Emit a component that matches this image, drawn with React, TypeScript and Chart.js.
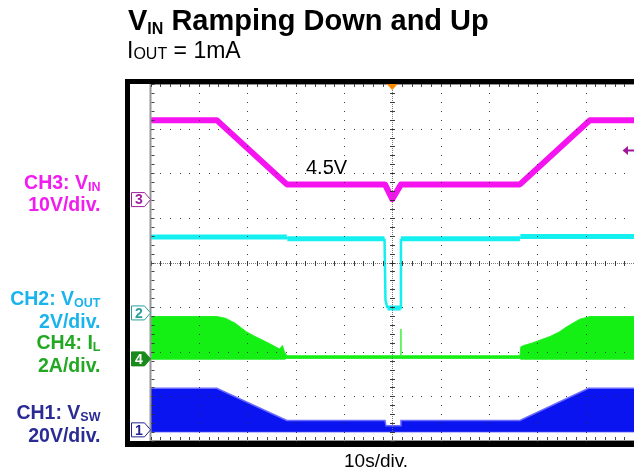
import React, { useEffect, useRef } from 'react';
import { Chart, registerables } from 'chart.js';

Chart.register(...registerables);

// Time axis in seconds (10 s/div, 10 divisions); vertical axis in screen divisions (-4..4)
const TIME_VIN = [0, 13.7, 28.2, 48.5, 50.0, 51.8, 76.4, 90.9, 100];
const VIN_DIV = [3.19, 3.19, 1.75, 1.75, 1.42, 1.75, 1.75, 3.19, 3.19];

const TIME_VOUT = [0, 28.2, 28.3, 48.4, 48.6, 49.0, 51.75, 51.8, 76.4, 76.5, 100];
const VOUT_DIV = [0.57, 0.57, 0.53, 0.53, -0.85, -1.02, -1.02, 0.53, 0.53, 0.58, 0.58];

const TIME_IL = [0, 13.7, 15.5, 17.5, 19.8, 21.5, 23.2, 25.0, 26.7, 27.3, 27.7, 28.2, 76.4, 76.6, 77.2, 79.1, 82.6, 84.5, 86.1, 88.8, 90.9, 100];
const IL_TOP = [-1.21, -1.21, -1.25, -1.36, -1.55, -1.65, -1.74, -1.84, -1.94, -1.86, -2.0, -2.09, -2.09, -1.89, -1.86, -1.8, -1.66, -1.56, -1.44, -1.27, -1.21, -1.21];
const IL_BOTTOM = [-2.17, -2.17, -2.17, -2.17, -2.17, -2.17, -2.17, -2.17, -2.17, -2.17, -2.17, -2.15, -2.15, -2.17, -2.17, -2.17, -2.17, -2.17, -2.17, -2.17, -2.17, -2.17];
const TIME_IL_SPIKE = [51.8, 51.8];
const IL_SPIKE = [-2.12, -1.49];

const TIME_SW = [0, 13.7, 28.2, 48.5, 48.7, 51.7, 51.8, 76.4, 90.6, 100];
const SW_TOP = [-2.82, -2.82, -3.54, -3.54, -3.66, -3.66, -3.54, -3.54, -2.82, -2.82];
const SW_BOTTOM = [-3.79, -3.79, -3.79, -3.79, -3.79, -3.79, -3.79, -3.79, -3.79, -3.79];

const X_DIVS = [0, 10, 20, 30, 40, 50, 60, 70, 80, 90, 100];
const Y_DIVS = [-4, -3, -2, -1, 0, 1, 2, 3, 4];
const X_MINOR_STEP = 2;
const Y_MINOR_STEP = 0.2;

const CH_MARKERS = ['3', '2', '4', '1'];
const CH_LEVELS = [1.41, -1.13, -2.16, -3.75];
const CH_MARKER_COLORS = ['#a0209e', '#2a9e9e', '#1a8a1a', '#24248e'];
const CH_MARKER_FILLED = [false, false, true, false];
const TRIGGER_TIME = 50;
const TRIGGER_LEVEL = 2.51;

const FONT = '"Liberation Sans", Arial, Helvetica, sans-serif';

function pts(xs: number[], ys: number[]) {
  return xs.map((x, i) => ({ x, y: ys[i] }));
}

const scopePlugin = {
  id: 'scope',
  beforeDraw(chart: any) {
    const { ctx, chartArea: a, width, height } = chart;
    ctx.save();
    ctx.fillStyle = '#ffffff';
    ctx.fillRect(0, 0, width, height);
    ctx.fillStyle = '#000000';
    ctx.fillRect(a.left - 25.5, a.top - 5, width, a.bottom - a.top + 11);
    ctx.fillStyle = '#ffffff';
    ctx.fillRect(a.left - 20.5, a.top, width, a.bottom - a.top);
    ctx.restore();
  },
  afterDatasetsDraw(chart: any) {
    const { ctx, chartArea: a, scales } = chart;
    const xs = scales.x;
    const ys = scales.y;
    const xMin = X_DIVS[0], xMax = X_DIVS[X_DIVS.length - 1];
    const yMin = Y_DIVS[0], yMax = Y_DIVS[Y_DIVS.length - 1];
    const minorX: number[] = [];
    for (let i = 0; xMin + i * X_MINOR_STEP <= xMax + 1e-9; i++) minorX.push(xMin + i * X_MINOR_STEP);
    const minorY: number[] = [];
    for (let i = 0; yMin + i * Y_MINOR_STEP <= yMax + 1e-9; i++) minorY.push(yMin + i * Y_MINOR_STEP);
    const cx = Math.round(xs.getPixelForValue(TRIGGER_TIME));
    const cy = Math.round(ys.getPixelForValue(0));
    ctx.save();
    ctx.fillStyle = 'rgba(40,40,40,0.9)';
    X_DIVS.slice(1, -1).forEach((v) => {
      if (v === TRIGGER_TIME) return;
      const px = Math.round(xs.getPixelForValue(v));
      minorY.forEach((m) => ctx.fillRect(px, Math.round(ys.getPixelForValue(m)), 1, 1));
    });
    Y_DIVS.slice(1, -1).forEach((v) => {
      if (v === 0) return;
      const py = Math.round(ys.getPixelForValue(v));
      minorX.forEach((m) => ctx.fillRect(Math.round(xs.getPixelForValue(m)), py, 1, 1));
    });
    ctx.fillStyle = 'rgba(110,110,110,0.9)';
    for (let px = a.left; px < a.right; px += 2) ctx.fillRect(Math.round(px), cy, 1, 1);
    for (let py = a.top; py < a.bottom; py += 2) ctx.fillRect(cx, Math.round(py), 1, 1);
    ctx.fillStyle = 'rgba(40,40,40,0.9)';
    minorX.forEach((m) => ctx.fillRect(Math.round(xs.getPixelForValue(m)), cy - 2, 1, 5));
    minorY.forEach((m) => ctx.fillRect(cx - 2, Math.round(ys.getPixelForValue(m)), 5, 1));
    ctx.fillStyle = 'rgba(150,150,150,1)';
    ctx.fillRect(a.left, a.top, a.right - a.left, 1);
    ctx.fillRect(a.left, a.bottom - 1, a.right - a.left, 1);
    ctx.fillRect(a.left - 1, a.top, 2, a.bottom - a.top);
    ctx.fillStyle = 'rgba(50,50,50,0.9)';
    minorX.forEach((m) => {
      const px = Math.round(xs.getPixelForValue(m));
      ctx.fillRect(px, a.top, 1, 3);
      ctx.fillRect(px, a.bottom - 4, 1, 3);
    });
    minorY.forEach((m) => {
      const py = Math.round(ys.getPixelForValue(m));
      ctx.fillRect(a.left + 1, py, 3, 1);
    });
    ctx.restore();
  },
  afterDraw(chart: any) {
    const { ctx, chartArea: a, scales } = chart;
    const xs = scales.x;
    const ys = scales.y;
    ctx.save();
    CH_LEVELS.forEach((lvl, i) => {
      const py = ys.getPixelForValue(lvl);
      const x0 = a.left - 19;
      const tip = a.left;
      ctx.beginPath();
      ctx.moveTo(x0, py - 7);
      ctx.lineTo(tip - 6, py - 7);
      ctx.lineTo(tip, py);
      ctx.lineTo(tip - 6, py + 7);
      ctx.lineTo(x0, py + 7);
      ctx.closePath();
      ctx.fillStyle = CH_MARKER_FILLED[i] ? CH_MARKER_COLORS[i] : '#ffffff';
      ctx.fill();
      ctx.strokeStyle = CH_MARKER_COLORS[i];
      ctx.lineWidth = 1;
      ctx.stroke();
      ctx.fillStyle = CH_MARKER_FILLED[i] ? '#ffffff' : CH_MARKER_COLORS[i];
      ctx.font = 'bold 14px ' + FONT;
      ctx.textAlign = 'center';
      ctx.textBaseline = 'middle';
      ctx.fillText(CH_MARKERS[i], x0 + 7.5, py + 1);
    });
    const tx = xs.getPixelForValue(TRIGGER_TIME);
    ctx.fillStyle = '#ff8a00';
    ctx.beginPath();
    ctx.moveTo(tx - 5.5, a.top);
    ctx.lineTo(tx + 5.5, a.top);
    ctx.lineTo(tx, a.top + 6);
    ctx.closePath();
    ctx.fill();
    const ty = ys.getPixelForValue(TRIGGER_LEVEL);
    ctx.fillStyle = '#a0189a';
    ctx.beginPath();
    ctx.moveTo(a.right - 11.5, ty);
    ctx.lineTo(a.right - 6, ty - 4.5);
    ctx.lineTo(a.right - 6, ty + 4.5);
    ctx.closePath();
    ctx.fill();
    ctx.fillRect(a.right - 6, ty - 1, 6, 2);
    ctx.restore();
  },
};

const subStyle = (size: number, drop: number): React.CSSProperties => ({
  fontSize: size,
  verticalAlign: -drop,
  lineHeight: 0,
});

function Line({ top, size, bold, color, children, right }: any) {
  const style: React.CSSProperties = {
    position: 'absolute',
    top: top - 0.8465 * size,
    fontFamily: FONT,
    fontWeight: bold ? 'bold' : 'normal',
    fontSize: size,
    lineHeight: size + 'px',
    color,
    whiteSpace: 'nowrap',
  };
  if (right !== undefined) {
    style.left = 0;
    style.width = right;
    style.textAlign = 'right';
  }
  return <div style={style}>{children}</div>;
}

export default function App() {
  const ref = useRef<HTMLCanvasElement>(null);
  useEffect(() => {
    if (!ref.current) return;
    const chart = new Chart(ref.current, {
      type: 'line',
      data: {
        datasets: [
          { data: pts(TIME_VIN, VIN_DIV), borderColor: '#f514f0', borderWidth: 6, borderJoinStyle: 'round', fill: false },
          {
            data: pts(TIME_VOUT, VOUT_DIV),
            borderColor: '#14f0f0',
            borderWidth: 5,
            fill: false,
            segment: { borderWidth: (c: any) => (Math.abs(c.p1.x - c.p0.x) < 3 ? 2.5 : 5) },
          },
          { data: pts(TIME_IL_SPIKE, IL_SPIKE), borderColor: '#3af03a', borderWidth: 1.5, fill: false },
          { data: pts(TIME_IL, IL_TOP), borderColor: '#22f022', borderWidth: 1, backgroundColor: '#14f014', fill: '+1' },
          { data: pts(TIME_IL, IL_BOTTOM), borderColor: '#4cf04c', borderWidth: 1, fill: false },
          { data: pts(TIME_SW, SW_TOP), borderColor: '#6a6aff', borderWidth: 1.5, backgroundColor: '#0a14f0', fill: '+1' },
          { data: pts(TIME_SW, SW_BOTTOM), borderColor: '#7a7aff', borderWidth: 1.5, fill: false },
        ] as any,
      },
      options: {
        animation: false,
        responsive: false,
        events: [],
        layout: { padding: { left: 150.5, top: 84, right: 0, bottom: 33 } },
        elements: { line: { tension: 0 }, point: { radius: 0 } },
        plugins: { legend: { display: false }, tooltip: { enabled: false } },
        scales: {
          x: { type: 'linear', min: X_DIVS[0], max: X_DIVS[X_DIVS.length - 1], display: false },
          y: { type: 'linear', min: Y_DIVS[0], max: Y_DIVS[Y_DIVS.length - 1], display: false },
        },
      } as any,
      plugins: [scopePlugin],
    });
    return () => chart.destroy();
  }, []);

  return (
    <div style={{ position: 'absolute', left: 0, top: 0, width: 634, height: 474, background: '#fff', overflow: 'hidden' }}>
      <canvas ref={ref} width={634} height={474} style={{ position: 'absolute', left: 0, top: 0, display: 'block' }} />
      <Line top={30.5} size={29} bold color="#000">
        <span style={{ position: 'relative', left: 128 }}>V<span style={subStyle(16, 3.5)}>IN</span> Ramping Down and Up</span>
      </Line>
      <Line top={58.5} size={23} color="#000">
        <span style={{ position: 'relative', left: 127 }}>I<span style={subStyle(16, 0.5)}>OUT</span> = 1mA</span>
      </Line>
      <Line top={190} size={19.5} bold color="#f01cf0" right={100.5}>CH3: V<span style={subStyle(12.5, 2)}>IN</span></Line>
      <Line top={211.7} size={19.5} bold color="#f01cf0" right={100.5}>10V/div.</Line>
      <Line top={305.7} size={19.5} bold color="#1ab4ec" right={100.5}>CH2: V<span style={subStyle(12.5, 2)}>OUT</span></Line>
      <Line top={328.3} size={19.5} bold color="#1ab4ec" right={100.5}>2V/div.</Line>
      <Line top={350} size={19.5} bold color="#22a822" right={100.5}>CH4: I<span style={subStyle(12.5, 2)}>L</span></Line>
      <Line top={372.3} size={19.5} bold color="#22a822" right={100.5}>2A/div.</Line>
      <Line top={420} size={19.5} bold color="#2b2b94" right={100.5}>CH1: V<span style={subStyle(12.5, 2)}>SW</span></Line>
      <Line top={442.3} size={19.5} bold color="#2b2b94" right={100.5}>20V/div.</Line>
      <Line top={174.3} size={20} color="#000">
        <span style={{ position: 'relative', left: 306 }}>4.5V</span>
      </Line>
      <Line top={467} size={19} color="#000">
        <span style={{ position: 'relative', left: 344 }}>10s/div.</span>
      </Line>
    </div>
  );
}
